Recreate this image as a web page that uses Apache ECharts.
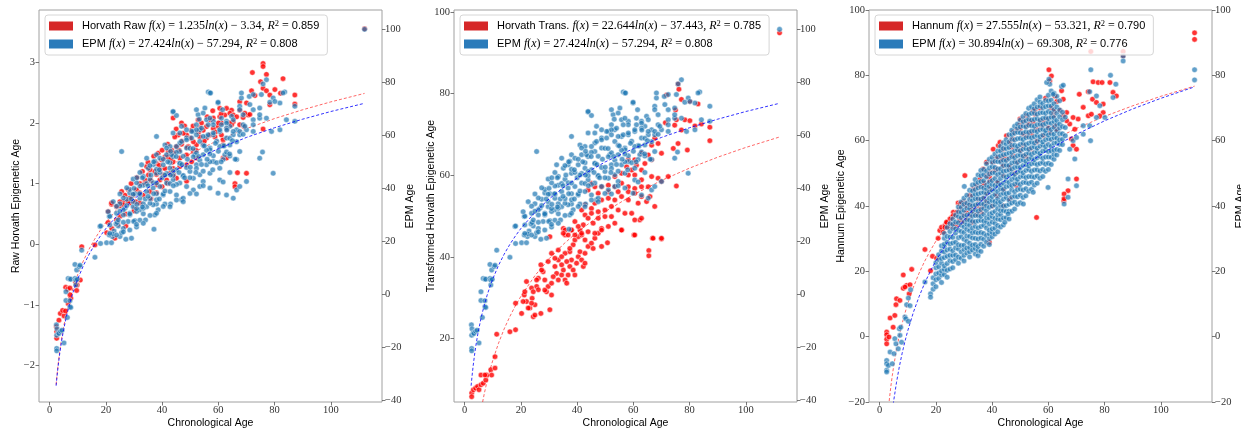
<!DOCTYPE html>
<html>
<head>
<meta charset="utf-8">
<script src="https://cdn.jsdelivr.net/npm/echarts@6/dist/echarts.min.js"></script>
<style>
  html, body { margin: 0; padding: 0; background: #fff; }
  #chart { width: 1241px; height: 430px; }
</style>
</head>
<body>
<div id="chart"></div>
<script>
// ---- data ----
// chronological age -> raw Horvath epigenetic age (left axis, panel 1)
const rawRed = [
  [2.5,-1.55],[2.5,-1.44],[2.4,-1.36],[3.3,-1.25],[3.8,-1.14],[4.6,-1.09],[5.1,-1.18],[5.6,-1.10],[6.6,-0.98],[7.5,-0.89],
  [7.2,-0.83],[5.7,-0.71],[6.4,-0.74],[7.2,-0.72],[9.6,-0.76],[9.8,-0.67],[9.2,-0.62],[10.9,-0.59],[11.4,-0.04],[16.1,-0.01],
  [20.3,0.19],[22.1,0.26],[24.2,0.33],[27.1,0.30],[23.2,0.10],[20.8,0.36],[23.8,0.40],[25.0,0.46],[22.0,0.66],[25.0,0.63],
  [26.2,0.70],[28.5,0.68],[30.9,0.70],[30.3,0.59],
  [75.9,2.98],[75.9,2.93],[72.1,2.83],[77.1,2.80],[83.0,2.73],[75.0,2.68],[75.9,2.57],[77.1,2.53],[80.1,2.55],[82.1,2.49],
  [87.2,2.46],[87.2,2.31],[71.8,2.53],[73.0,2.45],[78.3,2.46],[67.6,2.35],[70.0,2.33],[64.7,2.21],[62.9,2.24],[60.5,2.24],
  [58.2,2.08],[57.0,2.05],[60.5,2.10],[62.3,2.13],[64.1,2.16],[65.3,2.13],[66.5,2.10],[68.8,2.09],[70.6,2.13],[67.6,1.97],
  [69.1,1.94],[65.3,2.02],[64.7,1.97],[61.1,2.00],[59.9,1.94],[58.2,1.91],[55.8,1.94],[54.6,1.88],[53.4,1.92],[52.8,2.05],
  [50.5,1.88],[48.7,1.80],[47.5,1.83],[45.7,1.80],[44.5,1.77],[43.9,2.08],[46.9,2.00],[53.4,1.77],[55.8,1.75],[58.8,1.77],
  [61.1,1.80],[61.7,1.72],[54.6,1.66],[52.2,1.64],[51.1,1.69],[49.3,1.61],[46.9,1.65],[45.1,1.61],[43.4,1.55],[42.2,1.53],
  [41.0,1.44],[39.8,1.39],[38.6,1.50],[38.0,1.33],[42.2,1.44],[43.9,1.36],[46.3,1.42],[48.7,1.47],[51.1,1.53],[52.2,1.42],
  [50.5,1.36],[48.7,1.31],[46.3,1.28],[43.9,1.25],[42.8,1.17],[40.4,1.14],[39.2,1.23],[37.4,1.20],[35.7,1.23],[34.5,1.28],
  [35.1,1.14],[33.9,1.06],[32.1,1.00],[30.9,0.90],[29.7,0.81],[28.5,0.76],[26.8,0.81],[25.6,0.87],[25.0,0.70],[23.8,0.62],
  [22.0,0.68],[20.8,0.54],[26.2,0.65],[27.9,0.70],[30.3,0.70],[32.1,0.68],[33.3,0.81],[35.7,0.87],[38.0,0.98],[39.2,1.06],
  [41.6,1.06],[45.1,1.09],[48.7,1.04],[61.7,1.42],[62.9,1.42],[61.7,1.64],[66.8,1.18],[70.0,1.17],[65.9,1.00],[65.9,0.95],
  [75.9,1.90],[78.3,2.30],[67.6,2.21],[69.4,2.16],[71.2,2.14],
  [28,0.9],[29,1.0],[31,1.1],[32,0.85],[33,1.2],[34,1.0],[35,1.35],[36,1.05],[37,1.45],[38,1.15],
  [39,1.3],[40,1.55],[41,1.25],[42,1.65],[43,1.4],[44,1.5],[45,1.9],[46,1.55],[47,1.7],[48,1.95],
  [49,1.6],[50,1.75],[51,1.95],[52,1.55],[53,1.85],[54,2.0],[55,1.7],[56,2.1],[57,1.8],[58,2.2],
  [59,1.85],[60,2.0],[61,2.15],[63,1.9],[64,2.0],[30,0.55],[27,0.5],[36,0.75],[38,0.85],[40,0.95],
  [42,1.0],[44,1.15],
  [112,3.55]
]

// chronological age -> EPM age (right axis, panels 1 and 2)
const epmAges = [
  [2.5,-20.4],[2.5,-21.3],[2.4,-11.5],[2.6,-13.0],[2.5,-15.4],[3.1,-14.5],[3.3,-14.8],[3.9,-13.9],[4.4,-13.5],[5.1,-18.3],
  [5.8,1.0],[5.8,-2.3],[6.3,-8.7],[7.2,-4.7],[7.2,-2.4],[7.5,-4.9],[6.6,6.0],[7.2,5.8],[7.5,5.7],[9.0,6.0],
  [9.0,11.3],[9.3,3.5],[9.3,5.4],[9.8,5.7],[9.6,9.2],[10.5,10.5],[10.8,11.0],[11.4,16.7],[16.1,14.0],[17.9,25.6],
  [18.1,19.2],[20.25,19.5],[22.0,19.5],[22.3,21.8],[22.9,23.9],[25.0,21.8],[27.1,20.8],[29.1,21.2],[27.9,27.5],[30.3,27.8],
  [30.9,25.4],[32.1,28.0],[34.1,28.1],[37.1,24.6],[37.4,30.0],[38.6,31.9],[38.0,34.1],[41.0,34.1],[43.0,34.1],[46.9,35.7],
  [21.2,29.4],[23.8,30.6],[26.2,30.0],[28.5,30.0],[32.1,31.9],[34.5,33.1],[36.8,33.8],[24.4,25.8],[26.8,32.5],[29.7,33.1],
  [33.3,30.4],[21.2,22.4],[22.4,22.8],[23.6,26.6],[24.0,27.1],[25.6,23.3],[29.9,27.5],[24.4,28.1],[26.2,24.9],[21.4,26.2],
  [56.4,76.4],[57.0,76.0],[77.1,81.0],[75.9,79.4],[83.6,76.4],[79.5,74.1],[81.9,72.2],[71.0,74.7],[74.7,70.3],[71.2,71.6],
  [67.6,71.0],[68.2,74.1],[59.9,72.2],[55.2,70.3],[52.8,67.8],[43.9,68.8],[45.1,67.5],[38.0,59.6],[25.6,53.9],[34.5,51.4],
  [32.7,48.9],[35.1,47.6],[36.8,48.9],[41.0,56.4],[42.8,55.8],[46.3,57.1],[48.7,59.0],[51.1,61.5],[52.2,64.0],[53.4,62.1],
  [55.8,65.9],[58.2,65.3],[61.1,66.5],[62.9,65.3],[64.1,63.4],[66.5,62.1],[68.8,64.0],[72.4,65.9],[74.7,66.5],[77.1,66.5],
  [78.9,61.5],[81.9,62.1],[84.2,65.9],[87.2,65.3],[75.7,53.7],[70.0,42.6],[66.5,39.4],[65.3,36.3],[60.5,43.2],[59.9,38.2],
  [53.4,40.7],[51.1,39.4],[47.5,36.3],[45.1,37.5],[42.8,38.8],[40.4,37.5],[38.0,35.7],[35.7,34.4],[33.3,32.5],[30.9,31.3],
  [28.5,30.6],[26.2,31.9],[62.3,52.7],[64.1,56.4],[67.6,53.9],[57.0,55.2],[54.6,52.7],[52.2,48.9],[49.9,46.4],[47.5,44.5],
  [45.1,47.0],[42.8,47.6],[40.4,48.9],[38.0,45.7],[35.7,43.4],[33.3,41.2],[32.1,40.9],[30.3,38.0],[28.5,38.3],[27.4,35.9],
  [25.0,34.2],[38.0,52.7],[41.6,52.7],[43.9,52.0],[46.3,53.9],[48.7,55.2],[51.6,52.7],[53.4,57.7],[55.8,59.6],[58.2,60.2],
  [60.5,61.5],[62.9,59.0],[65.3,60.2],[67.6,60.2],[70.0,62.1],[72.4,61.5],[51.1,43.8],[53.4,45.1],[55.8,48.9],[58.2,50.1],
  [60.5,47.6],[57.0,45.7],[54.6,42.6],[48.7,40.7],[46.3,42.0],[43.9,43.2],[41.6,42.0],[39.2,40.7],[36.8,40.1],[34.5,38.8],
  [32.1,36.3],[29.7,35.0],[46.3,49.5],[43.9,46.4],
  [57.2,76.0],[68.2,76.0],[72.4,75.4],[75.3,75.4],[59.9,72.5],[78.3,72.5],[80.1,72.8],[83.0,76.0],[87.2,71.0],[67.6,69.7],
  [68.8,67.8],[72.4,69.7],[74.7,67.8],[43.9,69.0],[52.2,69.7],[54.6,68.4],[53.2,66.1],[57.0,66.5],[61.5,69.7],[64.7,67.2],
  [65.3,65.9],[62.9,64.6],[61.1,64.0],[58.2,64.0],[56.4,64.0],[54.0,62.7],[52.2,62.1],[50.5,61.5],[48.7,62.1],[46.9,63.4],
  [46.3,60.9],[43.9,60.9],[37.4,50.2],[39.2,51.4],[41.6,55.2],[43.4,52.7],[45.1,55.8],[46.9,57.7],[48.7,58.3],[50.5,59.0],
  [52.2,60.2],[54.6,59.6],[56.4,60.2],[58.2,60.9],[60.5,62.1],[62.9,62.7],[65.3,61.5],[67.6,61.5],[69.4,63.4],[72.4,64.0],
  [68.8,60.4],[66.5,57.6],[64.1,58.9],[61.7,56.2],[59.4,57.8],[57.0,54.6],[54.6,56.3],[52.2,53.4],[49.9,55.1],[47.5,52.1],
  [45.1,53.6],[42.8,49.7],[40.4,51.0],[38.0,47.2],[35.7,48.6],[33.3,44.5],[32.1,46.0],[30.9,42.1],[29.7,43.5],[28.5,39.6],
  [27.4,40.2],[26.2,36.4],[25.0,37.9],[23.8,33.3],[22.6,35.0],[21.4,29.5],[20.8,31.2],
  [18.1,25.8],[21.4,23.0],[23.8,22.4],[26.2,23.6],[28.5,24.3],[30.9,26.4],[33.3,26.8],[35.7,29.8],[38.0,30.6],[40.4,33.2],
  [42.8,33.1],[45.1,35.6],[47.5,35.0],[49.9,38.1],[52.2,37.9],[54.6,41.0],[57.0,40.1],[61.7,42.4],[64.1,46.0],
  [41.6,45.6],[43.9,44.8],[46.3,49.4],[48.7,47.9],[51.1,51.9],[53.4,50.6],[55.8,54.4],[58.2,52.3],[60.5,55.8],[62.9,53.7],
  [36.8,42.1],[39.2,46.0],[34.5,41.8],[32.1,37.7],[29.7,37.8],[27.4,33.5],[25.0,31.4],[26.2,27.2],[28.5,30.3],[30.9,32.4],
  [33.3,34.2],[35.7,36.1],[38.0,38.0],[40.4,37.9],[42.8,41.8],[45.1,41.5],[47.5,44.9],[49.9,44.0],[52.2,47.5],[54.6,46.5],
  [57.0,50.0],[59.4,49.7],[61.7,50.9],[64.1,52.2],[66.5,50.9],[62.9,37.5],[67.6,40.7],[74.7,51.4],[79.5,45.7],
  [29,36],[30,40],[31,34],[32,38],[33,44],[34,36],[35,41],[36,45],[37,38],[38,42],
  [39,47],[40,44],[41,39],[42,50],[43,45],[44,41],[45,52],[46,46],[47,49],[48,44],
  [49,51],[50,48],[51,55],[52,46],[53,52],[54,49],[55,56],[56,51],[57,53],[58,47],
  [59,57],[60,54],[61,50],[62,56],[63,62],[64,53],[65,58],[66,51],[31,44],[33,33],
  [35,37],[37,50],[39,36],[41,45],[43,54],
  [112,100]
]

// chronological age -> transformed Horvath epigenetic age (left axis, panel 2)
const transRed = [
  [2.5,6.7],[2.5,5.8],[3.1,7.5],[3.9,7.9],[4.6,8.3],[5.1,7.5],[5.8,8.7],[6.6,9.1],[7.5,9.9],[7.8,11.1],
  [5.8,11.1],[7.2,11.1],[9.3,12.4],[9.6,11.1],[10.8,12.8],[10.8,15.6],[11.4,21.1],[16.1,21.7],[18.1,22.2],[18.1,28.7],
  [20.25,26.2],[21.2,30.7],[22.0,29.1],[22.0,34.0],[23.2,27.5],[24.0,29.9],[24.4,25.4],[25.0,28.3],[25.6,32.8],[26.2,34.8],
  [27.1,38.1],[27.1,26.2],[27.9,36.4],[28.5,34.4],[29.1,31.5],[29.7,32.8],[30.3,27.1],[30.9,33.6],[32.1,37.7],[32.7,36.0],
  [33.3,39.3],[34.5,38.1],[35.1,36.8],[35.7,34.4],[36.3,33.6],[36.8,35.6],[37.4,37.7],[38.0,39.3],[38.6,36.8],[39.2,35.6],
  [39.8,38.5],[40.4,40.1],[41.0,41.3],[41.6,39.3],[42.2,37.7],[42.8,38.5],[37.4,41.3],[38.6,43.0],[39.2,44.2],[40.4,45.0],
  [41.0,46.6],[41.6,45.4],[42.8,44.2],[43.9,42.6],[45.1,43.4],[46.3,44.6],[47.5,45.8],[48.7,47.0],[38.0,46.6],[35.7,45.4],
  [35.1,47.0],[32.1,39.7],[30.9,40.9],[29.7,38.9],[27.4,36.8],[25.6,34.4],[28.5,31.9],[30.9,30.7],[33.3,34.4],[34.5,35.6],
  [55.8,46.6],[60.2,45.4],[62.3,49.1],[65.5,41.6],[65.5,40.3],[66.8,44.6],[70.0,44.4],[50.8,43.5],[48.7,42.6],[45.7,42.1],
  [42.8,40.9],[37.4,42.1],[35.7,40.9],[33.3,41.7],[34.5,40.1],[36.3,38.9],[31.5,35.2],[26.2,32.0],[23.8,32.4],[21.4,31.5],
  [20.8,29.1],[22.6,27.5],[23.8,28.7],[25.0,25.8],[24.4,31.5],
  [75.9,82.4],[76.2,81.1],[71.8,79.7],[77.1,78.6],[75.0,76.0],[80.1,78.1],[83.0,77.5],[71.4,72.9],[75.3,73.6],[78.3,73.6],
  [80.1,73.4],[81.9,72.1],[84.2,72.6],[87.2,71.8],[87.2,68.5],[74.7,72.3],[77.1,71.1],[75.9,67.8],[74.2,66.6],[79.2,66.2],
  [67.6,69.1],[68.8,67.8],[66.5,67.4],[70.0,65.4],[65.3,65.0],[62.9,65.4],[60.5,63.8],[58.2,63.8],[57.6,62.1],[59.4,61.3],
  [61.1,62.5],[64.1,62.9],[66.5,63.8],[62.9,61.3],[60.5,60.1],[58.2,60.1],[55.8,60.5],[53.4,59.7],[62.9,58.9],[66.5,59.7],
  [68.8,59.3],[72.4,59.7],[70.0,58.5],[75.3,57.4],[65.3,57.2],[62.9,57.2],[60.5,56.8],[58.2,57.2],[55.8,58.1],[53.4,57.2],
  [51.1,57.6],[48.7,57.2],[46.3,57.2],[45.1,58.1],[43.9,56.4],[47.5,55.6],[51.1,56.0],[54.6,56.0],[58.2,56.0],[60.5,55.6],
  [62.9,54.8],[65.9,54.8],[67.6,52.4],[64.7,53.6],[61.7,53.2],[58.2,54.0],[55.8,54.8],[53.4,54.0],[51.1,54.4],[48.7,54.0],
  [46.3,53.2],[45.1,51.9],[42.8,52.8],[41.6,51.5],[42.8,50.3],[45.1,50.7],[47.5,51.1],[49.9,51.5],[52.2,52.4],[54.6,51.5],
  [57.0,50.7],[59.4,50.7],[62.9,49.5],[60.5,49.1],[55.8,46.6],[52.2,49.9],[49.9,49.9],[47.5,49.5],[45.7,48.3],[43.9,49.5],
  [42.2,47.9],[40.4,47.5],[39.2,48.7],[38.0,46.6],[36.8,45.4],[35.7,46.6],[35.1,45.8],[30.3,45.0],[39.2,45.4],[41.6,45.8],
  [43.9,46.2],[46.3,45.8],[48.7,46.6],[51.1,47.5],[53.4,48.3],[60.5,45.4],[67.0,44.6],[70.0,44.6],
  [112,94.9]
]

// chronological age -> Hannum epigenetic age (left axis, panel 3)
const hannumRed = [
  [2.5,1.4],[2.5,0.6],[2.5,-0.8],[2.5,-2.2],[3.3,-0.1],[3.7,5.7],[4.8,2.9],[5.4,6.5],[5.8,9.8],[6.0,11.6],
  [7.2,11.1],[8.4,14.8],[9.6,15.7],[10.8,15.9],[9.0,15.2],[8.4,18.9],[10.5,13.1],[11.4,20.6],[16.1,26.7],[18.1,20.2],
  [18.8,24.6],[20.25,24.0],[20.8,30.1],[21.4,32.5],[22.0,33.5],[23.2,34.0],[23.8,35.0],[22.6,32.0],[25.0,34.5],[25.6,36.5],
  [26.2,38.1],[26.8,37.1],[27.9,40.9],[28.5,35.8],[29.9,41.3],[30.3,40.6],[32.1,40.3],[32.7,37.6],[34.5,37.3],[35.7,39.1],
  [36.8,40.1],[38.0,41.1],[39.0,28.9],[55.8,36.5],[65.5,41.6],[24.4,33.5],[27.4,34.0],[29.7,37.1],[30.9,38.1],[33.3,39.1],
  [26.4,33.5],
  [60.2,81.7],[61.1,79.8],[60.5,78.3],[54.6,69.2],[55.2,68.1],[53.4,66.1],[51.1,66.1],[49.9,64.8],[48.7,63.5],[47.5,60.5],
  [46.3,59.5],[43.9,57.4],[42.2,58.5],[41.6,54.9],[40.4,53.4],[41.6,51.3],[38.0,49.3],[35.7,48.3],[34.5,46.2],[32.1,43.2],
  [30.3,49.3],[29.7,41.1],[28.5,40.6],[27.4,38.1],[26.2,37.1],[25.0,36.0],[23.2,33.5],[28.5,39.1],[30.9,40.1],[33.3,45.2],
  [36.8,46.2],[39.2,47.8],[43.9,52.3],[45.1,54.4],[47.5,55.4],[49.3,57.4],[51.1,58.5],[52.2,61.5],[53.4,62.5],[55.8,63.5],
  [57.6,64.6],[59.4,66.6],[61.7,67.6],[64.1,69.2],[65.3,72.7],[64.7,75.3],[62.3,73.7],[66.5,68.6],[68.8,67.1],[70.6,66.6],
  [67.6,65.1],[69.4,63.5],[68.2,60.5],[68.8,58.5],[70.0,57.4],[71.0,74.2],[72.4,70.2],[74.2,67.6],[75.3,68.1],[75.9,78.0],
  [77.7,77.8],[79.1,77.8],[74.2,75.0],[75.7,72.7],[77.1,71.7],[79.5,71.2],[81.9,77.8],[83.0,74.8],[84.2,73.7],[79.5,68.6],
  [78.3,67.6],[70.0,48.3],[67.0,44.7],[65.6,43.7],[65.6,42.2],[48.7,46.2],[46.3,42.2],[43.9,40.1],[41.6,43.2],[39.2,45.2],
  [36.8,42.2],[34.5,40.1],[32.7,39.1],[32.1,37.1],[30.9,36.0],[29.1,35.0],[26.8,34.5],[23.8,35.0],[38.0,53.4],[40.4,57.4],
  [42.8,59.5],[45.1,61.5],[47.5,62.5],[49.9,63.5],[52.2,64.6],[54.6,65.6],[57.0,66.1],[58.2,61.5],[55.8,59.5],[53.4,57.4],
  [51.1,55.4],[48.7,53.4],[46.3,51.3],[43.9,49.3],[41.6,47.2],[39.2,50.3],[36.8,51.3],[49.9,66.6],[52.2,67.6],[55.2,69.2],
  [62.3,64.6],[60.5,62.5],[62.9,63.5],[65.3,67.6],[66.5,66.1],
  [33,35],[36,38],[38,44],[40,40],[42,47],[44,45],[46,52],[48,50],[50,57],[52,55],
  [54,62],[56,60],[58,66],[60,64],[62,69],[44,55],[47,58],[51,62],[53,65],[57,70],
  [59,73],[61,70],[63,72],[35,42],[37,47],[39,49],[41,51],[43,54],
  [75.1,87.3],[86.6,87.3],[86.6,85.9],[112,93.0],[112,91.0]
]

// chronological age -> EPM age (right axis, panel 3): scattered samples
const hannumEpm = [
  [2.5,-7.3],[2.5,-8.3],[2.5,-10.3],[2.5,-10.8],[3.1,-8.8],[3.7,-4.7],[4.5,-8.3],[5.1,-5.2],[5.4,-0.6],[5.8,-2.2],
  [6.6,-3.7],[7.0,2.4],[7.5,2.9],[7.2,0.4],[7.8,-1.7],[9.0,6.0],[9.3,5.5],[10.2,4.7],[9.6,9.8],[10.2,11.8],
  [11.0,14.4],[10.8,9.5],[16.1,16.7],[18.1,13.1],[18.1,12.1],
  [59.9,45.7],[65.6,40.6],[67.0,42.7],[70.0,46.2],[67.0,48.3],[69.4,54.4],[67.6,57.4],[68.8,60.0],[70.0,61.0],[72.4,62.0],
  [75.0,60.0],[74.7,64.6],[72.4,64.6],[77.1,67.1],[80.1,67.1],[78.3,70.7],[77.1,73.7],[74.7,75.0],[83.0,73.2],[84.0,77.3],
  [82.1,80.0],[75.1,81.7],[51.1,40.6],[54.6,44.2],[45.7,37.6],[44.5,35.0],[30.1,46.0],[60.5,77.3],[64.7,76.6],[65.3,77.0],
  [61.7,74.2],[59.4,77.8],[60.2,78.8],
  [86.6,85.9],[86.6,84.4],[112,81.7],[112,78.6]
]

// the dense part of panel 3: whole-year ages, first entry is the age, the rest are EPM ages
const hannumEpmColumns = [
  [19, 14.5, 16.2, 18.0],
  [20, 15.3, 17.4, 19.2, 21.1, 22.6],
  [21, 17.8, 19.5, 21.4, 23.6, 25.1],
  [22, 16.6, 18.9, 20.1, 22.5, 23.9, 26.2, 27.8],
  [23, 19.0, 20.6, 21.7, 24.2, 25.9, 27.5, 28.3, 30.1, 31.6],
  [24, 18.2, 20.3, 22.4, 24.6, 26.5, 28.9, 30.7, 33.4],
  [25, 20.7, 23.3, 24.9, 26.8, 28.4, 30.5, 32.2, 34.6],
  [26, 21.1, 23.0, 24.9, 26.3, 28.7, 30.4, 33.1, 34.4, 36.0],
  [27, 23.6, 25.0, 27.2, 28.9, 31.7, 33.0, 35.1, 37.2],
  [28, 22.5, 24.4, 26.8, 28.1, 30.3, 32.6, 34.9, 36.8, 38.2, 39.7],
  [29, 24.0, 25.9, 27.9, 30.6, 32.2, 34.1, 36.4, 38.1, 39.6, 41.2],
  [30, 23.2, 24.9, 26.7, 28.0, 29.8, 31.9, 33.6, 35.1, 37.0, 38.7, 40.5, 42.4],
  [31, 25.6, 27.1, 29.2, 30.8, 32.9, 34.4, 35.8, 37.2, 39.4, 40.9, 43.3],
  [32, 24.4, 26.0, 27.3, 28.6, 30.7, 32.4, 34.1, 35.6, 37.5, 39.2, 40.4, 42.0, 44.8],
  [33, 26.5, 28.0, 30.2, 31.8, 33.2, 35.3, 36.9, 38.3, 40.1, 41.7, 43.1, 44.6, 46.4],
  [34, 25.3, 27.0, 28.2, 30.1, 32.0, 33.8, 35.2, 37.1, 38.9, 40.3, 42.2, 43.6, 45.0, 46.7, 48.1],
  [35, 24.8, 26.4, 27.6, 29.9, 31.7, 33.3, 35.4, 37.1, 38.4, 40.6, 42.3, 43.7, 45.5, 47.2, 49.5],
  [36, 26.1, 28.3, 30.2, 31.9, 33.7, 35.6, 36.8, 38.9, 40.7, 42.1, 44.0, 45.8, 47.5, 49.3, 50.9],
  [37, 27.7, 29.8, 31.6, 34.1, 35.4, 37.5, 39.3, 40.6, 42.5, 44.2, 45.5, 47.7, 49.6, 51.2],
  [38, 28.9, 31.0, 33.3, 35.2, 36.4, 38.6, 40.1, 41.5, 43.8, 45.3, 46.4, 48.9, 50.7, 52.9],
  [39, 28.2, 30.0, 31.5, 32.6, 34.5, 36.3, 37.5, 39.6, 41.2, 42.4, 44.3, 46.0, 47.3, 49.8, 51.6, 54.3],
  [40, 30.6, 31.9, 33.0, 35.1, 36.8, 37.9, 40.0, 41.7, 42.9, 44.8, 46.6, 47.8, 50.1, 52.0, 53.4, 54.9],
  [41, 31.4, 33.2, 34.7, 36.2, 38.3, 40.3, 41.4, 43.5, 45.1, 46.3, 48.4, 50.2, 51.8, 53.7, 55.9],
  [42, 32.1, 34.0, 36.0, 37.3, 39.2, 41.1, 42.3, 44.4, 46.2, 47.4, 49.6, 51.3, 53.6, 55.0, 56.8],
  [43, 33.6, 35.8, 37.4, 38.6, 40.2, 41.3, 43.4, 45.3, 46.5, 48.4, 50.1, 51.4, 53.5, 55.4, 56.9, 58.3],
  [44, 34.2, 36.3, 38.6, 40.0, 42.1, 43.9, 45.1, 47.0, 49.2, 50.6, 52.4, 54.0, 55.7, 57.6, 59.4],
  [45, 36.4, 38.3, 40.1, 42.6, 43.8, 45.9, 47.7, 48.9, 50.8, 52.5, 53.9, 55.9, 57.6, 59.0, 60.3],
  [46, 36.0, 38.4, 40.5, 41.8, 44.0, 46.1, 47.2, 49.3, 51.0, 52.4, 54.5, 56.2, 57.9, 59.6, 61.8],
  [47, 38.4, 40.9, 42.7, 45.0, 46.3, 48.1, 49.9, 51.3, 53.2, 55.1, 56.4, 58.6, 60.5, 61.9, 63.2],
  [48, 39.1, 41.2, 43.0, 44.4, 46.7, 48.6, 49.7, 51.8, 53.5, 54.8, 56.9, 58.6, 60.2, 62.3, 64.4],
  [49, 40.5, 42.8, 45.0, 47.1, 48.2, 50.3, 52.0, 53.3, 55.4, 57.2, 58.3, 60.6, 62.6, 63.9, 65.1],
  [50, 41.0, 43.3, 45.2, 46.6, 48.9, 50.7, 51.8, 53.9, 55.6, 56.9, 58.8, 60.7, 62.4, 64.2, 66.3],
  [51, 42.6, 44.9, 47.2, 49.1, 50.2, 52.4, 54.1, 55.3, 57.4, 59.2, 60.4, 62.3, 64.5, 65.8, 67.4],
  [52, 43.1, 45.3, 47.2, 48.7, 50.9, 52.6, 53.7, 55.8, 57.6, 58.8, 60.9, 62.7, 64.2, 66.1, 68.3],
  [53, 44.5, 46.9, 49.0, 51.2, 52.3, 54.4, 56.2, 57.4, 59.2, 61.1, 62.5, 64.7, 66.6, 68.0, 69.9],
  [54, 45.1, 47.3, 49.0, 50.6, 52.9, 54.7, 55.8, 57.8, 59.6, 60.9, 62.9, 64.6, 66.3, 68.4, 70.4],
  [55, 46.4, 48.8, 51.0, 53.1, 54.2, 56.3, 58.1, 59.3, 61.2, 63.0, 64.4, 66.5, 68.5, 69.8, 71.3],
  [56, 47.0, 49.2, 51.1, 52.7, 54.8, 56.6, 57.7, 59.8, 61.6, 62.8, 64.9, 66.7, 68.1, 70.3, 72.5],
  [57, 48.5, 50.7, 53.0, 55.2, 56.1, 58.3, 60.2, 61.2, 63.3, 65.1, 66.3, 68.5, 70.6, 71.8, 73.4],
  [58, 49.0, 51.2, 53.3, 54.6, 56.8, 58.7, 59.6, 61.7, 63.5, 64.9, 66.8, 68.6, 70.1, 71.4],
  [59, 50.6, 52.8, 55.0, 57.1, 58.2, 60.3, 62.2, 63.1, 65.2, 67.0, 68.4, 70.4, 72.3],
  [60, 51.2, 53.1, 55.0, 56.7, 58.8, 60.6, 61.7, 63.8, 65.6, 66.8, 68.9, 70.7, 72.2, 73.9],
  [61, 52.7, 54.9, 56.8, 58.3, 60.4, 62.2, 63.4, 65.3, 67.2, 68.5, 70.6, 72.4, 75.2],
  [62, 54.3, 55.8, 57.1, 59.2, 60.9, 62.0, 64.1, 65.9, 67.1, 69.5, 71.3, 74.5],
  [63, 55.6, 57.3, 59.4, 60.8, 63.0, 64.9, 66.2, 68.4, 70.3, 73.6],
  [64, 57.0, 58.9, 60.2, 62.1, 63.9, 65.1, 67.3, 69.4, 72.2],
  [65, 58.8, 60.4, 62.1, 64.3, 66.4, 68.7],
  [66, 61.5, 64.0, 67.2]
]

// sampled log fits, f(x) = a ln(x) + b, as given in the legends
const fitAges = [2.3, 2.6, 3, 3.5, 4, 4.5, 5, 6, 7, 8, 9, 10, 12, 14, 16, 18, 20, 25, 30, 35, 40, 50, 60, 70, 80, 90, 100, 112]
const rawFit = [-2.311, -2.160, -1.983, -1.793, -1.628, -1.482, -1.352, -1.127, -0.937, -0.772, -0.626, -0.496, -0.271, -0.081,
  0.084, 0.230, 0.360, 0.635, 0.860, 1.051, 1.216, 1.491, 1.716, 1.907, 2.072, 2.217, 2.347, 2.487]
const epmFit = [-34.45, -31.09, -27.17, -22.94, -19.28, -16.05, -13.16, -8.16, -3.93, -0.27, 2.96, 5.85, 10.85, 15.08,
  18.74, 21.97, 24.86, 30.98, 35.98, 40.21, 43.87, 49.99, 54.99, 59.22, 62.88, 66.11, 69.00, 72.10]
const transFit = [-18.58, -15.81, -12.57, -9.07, -6.05, -3.38, -1.00, 3.13, 6.62, 9.64, 12.31, 14.70, 18.82, 22.32,
  25.34, 28.01, 30.39, 35.45, 39.57, 43.06, 46.09, 51.14, 55.27, 58.76, 61.78, 64.45, 66.84, 69.40]
const hannumFit = [-30.37, -26.99, -23.05, -18.80, -15.12, -11.88, -8.97, -3.95, 0.30, 3.98, 7.22, 10.13, 15.15, 19.40,
  23.08, 26.32, 29.23, 35.38, 40.40, 44.65, 48.33, 54.47, 59.50, 63.75, 67.43, 70.67, 73.58, 76.70]
const hannumEpmFit = [-43.58, -39.79, -35.37, -30.60, -26.48, -22.84, -19.59, -13.95, -9.19, -5.07, -1.43, 1.83, 7.46, 12.22,
  16.35, 19.99, 23.24, 30.14, 35.77, 40.53, 44.66, 51.55, 57.18, 61.95, 66.07, 69.71, 72.96, 76.47]

// legend text: [label, slope, intercept, R2]
const legendFits = {
  'Horvath Raw': ['Horvath Raw', '1.235', '3.34', '0.859'],
  'EPM': ['EPM', '27.424', '57.294', '0.808'],
  'Horvath Trans.': ['Horvath Trans.', '22.644', '37.443', '0.785'],
  'Hannum': ['Hannum', '27.555', '53.321', '0.790'],
  'EPM (Hannum)': ['EPM', '30.894', '69.308', '0.776']
}

const xTicks = [0, 20, 40, 60, 80, 100]
const rawTicks = [-2, -1, 0, 1, 2, 3]
const epmTicks = [-40, -20, 0, 20, 40, 60, 80, 100]
const transTicks = [20, 40, 60, 80, 100]
const hannumTicks = [-20, 0, 20, 40, 60, 80, 100]

// ---- drawing ----
const SANS = 'Liberation Sans, DejaVu Sans, sans-serif'
const SERIF = 'Liberation Serif, DejaVu Serif, serif'
const RED = '#ff0000'
const BLUE = '#1f77b4'

function zip(xs, ys) {
  return xs.map(function (x, i) { return [x, ys[i]] })
}

function columnsToPoints(cols) {
  let pts = []
  cols.forEach(function (c) {
    for (let k = 1; k < c.length; k++) pts.push([c[0], c[k]])
  })
  return pts
}

function fitLabel(name) {
  let f = legendFits[name]
  return '{g|}{s|' + f[0] + ' }{i|f}{r|(}{i|x}{r|) = ' + f[1] + '}{i|ln}{r|(}{i|x}{r|) \u2212 ' + f[2] +
    ', }{i|R}{sup|2}{r| = }{s|' + f[3] + '}'
}

const panels = [
  {left: 39, yl: [-2.599, 3.861], ylTicks: rawTicks, yr: [-40.6, 107.3], yrTicks: epmTicks, ylGap: 17,
    yName: 'Raw Horvath Epigenetic Age', red: rawRed, blue: epmAges, redFit: rawFit, blueFit: epmFit,
    redName: 'Horvath Raw', blueName: 'EPM'},
  {left: 454, yl: [4.5, 100.5], ylTicks: transTicks, yr: [-40.6, 107.3], yrTicks: epmTicks, ylGap: 17,
    yName: 'Transformed Horvath Epigenetic Age', red: transRed, blue: epmAges, redFit: transFit, blueFit: epmFit,
    redName: 'Horvath Trans.', blueName: 'EPM'},
  {left: 869, yl: [-20, 100], ylTicks: hannumTicks, yr: [-20, 100], yrTicks: hannumTicks, ylGap: 22,
    yName: 'Hannum Epigenetic Age', red: hannumRed, blue: columnsToPoints(hannumEpmColumns).concat(hannumEpm),
    redFit: hannumFit, blueFit: hannumEpmFit,
    redName: 'Hannum', blueName: 'EPM (Hannum)'}
]

function numLabel(v) {
  return String(v).replace('-', '\u2212')
}

function valueAxis(extra, ticks) {
  let base = {
    type: 'value',
    splitLine: {show: false},
    axisLine: {show: false, onZero: false},
    axisTick: {show: true, length: 3.5, lineStyle: {color: '#555', width: 0.8}, customValues: ticks},
    axisLabel: {fontFamily: SERIF, fontSize: 10.5, color: '#333', margin: 4, formatter: numLabel, customValues: ticks},
    nameLocation: 'middle',
    nameMoveOverlap: false,
    nameTextStyle: {fontFamily: SANS, fontSize: 10.5, color: '#000'}
  }
  return Object.assign(base, extra)
}

const grids = [], xAxes = [], yAxes = [], series = [], legends = []

panels.forEach(function (p, i) {
  grids.push({left: p.left, top: 10, width: 343, height: 392, show: true, borderColor: '#a0a0a0', borderWidth: 1,
    containLabel: false, outerBoundsMode: 'none'})

  let xa = valueAxis({gridIndex: i, min: -3.79, max: 118.2, name: 'Chronological Age', nameGap: 15.5}, xTicks)
  xa.axisLabel.margin = 3
  xAxes.push(xa)
  yAxes.push(valueAxis({gridIndex: i, position: 'left', min: p.yl[0], max: p.yl[1], name: p.yName,
    nameGap: p.ylGap, nameRotate: 90}, p.ylTicks))
  let yr = valueAxis({gridIndex: i, position: 'right', min: p.yr[0], max: p.yr[1], name: 'EPM Age',
    nameGap: 23, nameRotate: 90}, p.yrTicks)
  yr.axisLabel.margin = 3
  yAxes.push(yr)

  series.push({
    name: p.redName, type: 'scatter', xAxisIndex: i, yAxisIndex: 2 * i, data: p.red,
    symbolSize: 5.5, z: 2,
    itemStyle: {color: RED, borderColor: '#fff', borderWidth: 0.6}
  })
  series.push({
    name: p.redName + ' fit', type: 'line', xAxisIndex: i, yAxisIndex: 2 * i, data: zip(fitAges, p.redFit),
    showSymbol: false, z: 3, clip: true,
    lineStyle: {color: 'rgba(255,0,0,0.6)', width: 1, type: [3, 2]}
  })
  series.push({
    name: p.blueName, type: 'scatter', xAxisIndex: i, yAxisIndex: 2 * i + 1, data: p.blue,
    symbolSize: 5.5, z: 4,
    itemStyle: {color: BLUE, borderColor: '#fff', borderWidth: 0.6, opacity: 0.7}
  })
  series.push({
    name: p.blueName + ' fit', type: 'line', xAxisIndex: i, yAxisIndex: 2 * i + 1, data: zip(fitAges, p.blueFit),
    showSymbol: false, z: 5, clip: true,
    lineStyle: {color: 'rgba(0,0,255,0.8)', width: 1, type: [3, 2]}
  })

  legends.push({
    left: p.left + 6, top: 15, orient: 'vertical', z: 10,
    data: [
      {name: p.redName, itemStyle: {color: '#d62728', opacity: 1, borderWidth: 0}},
      {name: p.blueName, itemStyle: {color: '#2b7bba', opacity: 1, borderWidth: 0}}
    ],
    icon: 'rect', itemWidth: 24, itemHeight: 9, itemGap: 4,
    padding: [4, 8, 4, 4],
    backgroundColor: 'rgba(255,255,255,0.8)', borderColor: '#d6d6d6', borderWidth: 1, borderRadius: 3,
    selectedMode: false,
    formatter: fitLabel,
    textStyle: {
      lineHeight: 14,
      rich: {
        g: {width: 4},
        s: {fontFamily: SANS, fontSize: 11, color: '#000', lineHeight: 14},
        i: {fontFamily: SERIF, fontStyle: 'italic', fontSize: 12, color: '#000', lineHeight: 14},
        r: {fontFamily: SERIF, fontSize: 12, color: '#000', lineHeight: 14},
        sup: {fontFamily: SERIF, fontSize: 8.5, color: '#000', lineHeight: 14, verticalAlign: 'top'}
      }
    }
  })
})

const myChart = echarts.init(document.getElementById('chart'), null, {renderer: 'canvas'})
myChart.setOption({
  animation: false,
  backgroundColor: '#fff',
  grid: grids,
  xAxis: xAxes,
  yAxis: yAxes,
  legend: legends,
  series: series
})
</script>
</body>
</html>
